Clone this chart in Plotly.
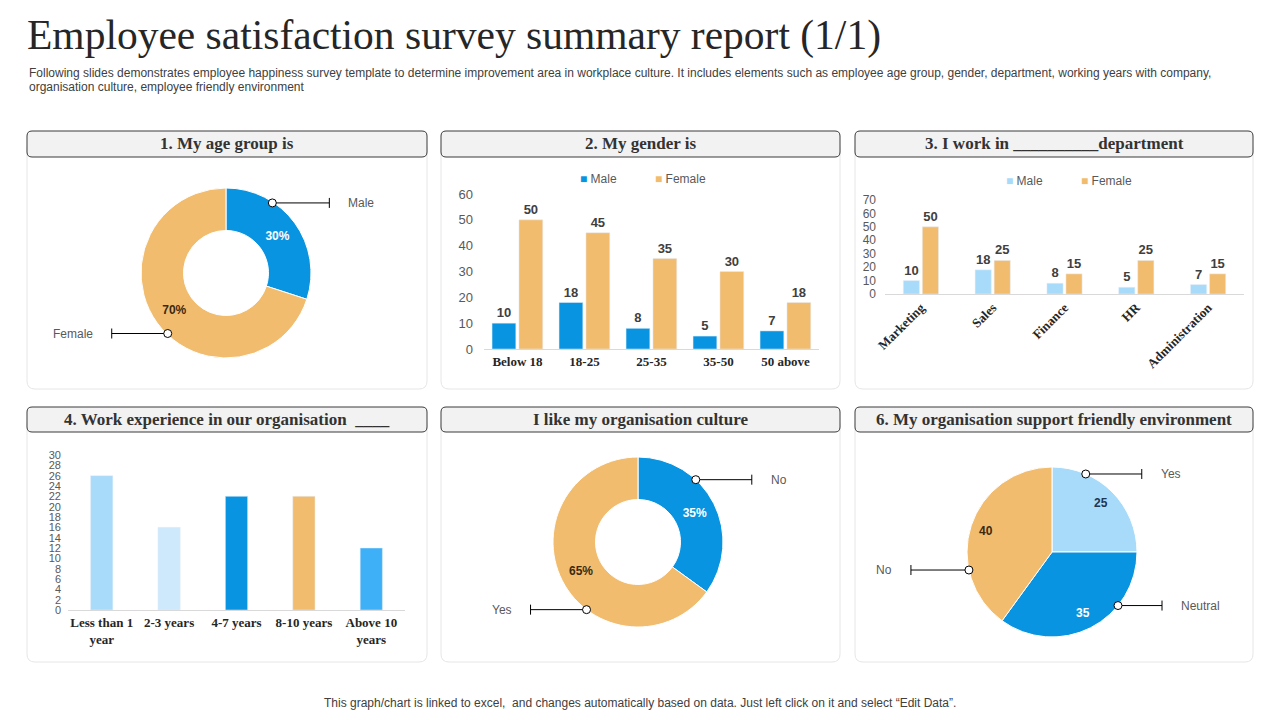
import math
import plotly.graph_objects as go

W, H = 1280, 720

# ---- data ----
age_labels = ["Male", "Female"]
age_values = [30, 70]

gender_cats = ["Below 18", "18-25", "25-35", "35-50", "50 above"]
gender_male = [10, 18, 8, 5, 7]
gender_female = [50, 45, 35, 30, 18]

dept_cats = ["Marketing", "Sales", "Finance", "HR", "Administration"]
dept_male = [10, 18, 8, 5, 7]
dept_female = [50, 25, 15, 25, 15]

exp_cats = ["Less than 1<br>year", "2-3 years", "4-7 years", "8-10 years", "Above 10<br>years"]
exp_values = [26, 16, 22, 22, 12]

culture_labels = ["No", "Yes"]
culture_values = [35, 65]

env_labels = ["Yes", "Neutral", "No"]
env_values = [25, 35, 40]

# ---- styles ----
BLUE = "#0994e2"
ORANGE = "#f2bc6f"
LIGHT = "#a8dbfa"
SANS = "Liberation Sans"
SERIF = "Liberation Serif"
TICK = "#595959"


def X(px):
    return px / W


def Y(py):
    return 1 - py / H


def rounded(x0, y0, x1, y1, r):
    rx, ry = r / W, r / H
    a, b, c, d = X(x0), Y(y0), X(x1), Y(y1)
    return (f"M{a+rx},{b} L{c-rx},{b} Q{c},{b} {c},{b-ry} L{c},{d+ry} Q{c},{d} {c-rx},{d} "
            f"L{a+rx},{d} Q{a},{d} {a},{d+ry} L{a},{b-ry} Q{a},{b} {a+rx},{b} Z")


fig = go.Figure()
shapes = []
annotations = []

# ---- pies ----
def pie_domain(cx, cy, r):
    return dict(x=[X(cx - r), X(cx + r)], y=[Y(cy + r), Y(cy - r)])

fig.add_trace(go.Pie(labels=age_labels, values=age_values, hole=0.5, sort=False,
                     direction="clockwise", domain=pie_domain(226, 273, 85),
                     marker=dict(colors=[BLUE, ORANGE], line=dict(color="white", width=1)),
                     texttemplate="%{percent:.0%}", textposition="inside",
                     insidetextorientation="horizontal",
                     insidetextfont=dict(family=SANS, size=12, weight="bold", color=["white", "#3a2a10"]),
                     showlegend=False, hoverinfo="skip"))

fig.add_trace(go.Pie(labels=culture_labels, values=culture_values, hole=0.5, sort=False,
                     direction="clockwise", domain=pie_domain(638, 542, 85),
                     marker=dict(colors=[BLUE, ORANGE], line=dict(color="white", width=1)),
                     texttemplate="%{percent:.0%}", textposition="inside",
                     insidetextorientation="horizontal",
                     insidetextfont=dict(family=SANS, size=12, weight="bold", color=["white", "#3a2a10"]),
                     showlegend=False, hoverinfo="skip"))

fig.add_trace(go.Pie(labels=env_labels, values=env_values, sort=False,
                     direction="clockwise", domain=pie_domain(1052, 552, 85),
                     marker=dict(colors=[LIGHT, BLUE, ORANGE], line=dict(color="white", width=1)),
                     textinfo="none", showlegend=False, hoverinfo="skip"))

# value labels of the full pie sit further out than plotly puts them
env_text_colors = ["#1f3550", "white", "#3a2a10"]
start = 0
for v, col in zip(env_values, env_text_colors):
    ang = (start + v / 2) / sum(env_values) * 2 * math.pi
    start += v
    annotations.append(dict(text=f"<b>{v}</b>", x=X(1052 + 69 * math.sin(ang)), y=Y(552 - 69 * math.cos(ang)),
                            xref="paper", yref="paper", showarrow=False, xanchor="center", yanchor="middle",
                            font=dict(family=SANS, size=12, color=col)))

# ---- bars ----
# offset/width per trace so each chart gets its own bar spacing
fig.add_trace(go.Bar(x=gender_cats, y=gender_male, name="Male", marker_color=BLUE,
                     offset=-0.38, width=0.355,
                     text=gender_male, textposition="outside", xaxis="x", yaxis="y"))
fig.add_trace(go.Bar(x=gender_cats, y=gender_female, name="Female", marker_color=ORANGE,
                     offset=0.022, width=0.355,
                     text=gender_female, textposition="outside", xaxis="x", yaxis="y"))

fig.add_trace(go.Bar(x=dept_cats, y=dept_male, name="Male", marker_color=LIGHT,
                     offset=-0.245, width=0.225,
                     text=dept_male, textposition="outside", xaxis="x2", yaxis="y2"))
fig.add_trace(go.Bar(x=dept_cats, y=dept_female, name="Female", marker_color=ORANGE,
                     offset=0.02, width=0.225,
                     text=dept_female, textposition="outside", xaxis="x2", yaxis="y2"))

fig.add_trace(go.Bar(x=exp_cats, y=exp_values, width=0.33,
                     marker_color=[LIGHT, "#cde9fb", BLUE, ORANGE, "#3db0f7"],
                     xaxis="x3", yaxis="y3"))

fig.update_traces(selector=dict(type="bar"), textfont=dict(family=SANS, size=13, weight="bold", color="#404040"),
                  cliponaxis=False, constraintext="none", hoverinfo="skip", showlegend=False)

# compact legends like the office chart ones
def legend(items, x0, y):
    x = x0
    for name, col in items:
        annotations.append(dict(text=f"<span style='color:{col}'>\u25A0</span> {name}", x=X(x), y=Y(y),
                                xref="paper", yref="paper", showarrow=False, xanchor="left", yanchor="middle",
                                font=dict(family=SANS, size=12, color=TICK)))
        x += 75

legend([("Male", BLUE), ("Female", ORANGE)], 578, 179)
legend([("Male", LIGHT), ("Female", ORANGE)], 1004, 181)

xcommon = dict(showline=True, linecolor="#d9d9d9", showgrid=False, zeroline=False, ticks="",
               automargin=False,
               tickfont=dict(family=SERIF, size=13, weight="bold", color="#262626"), fixedrange=True)
ycommon = dict(showline=False, showgrid=False, zeroline=False, ticks="", automargin=False,
               tickfont=dict(family=SANS, size=12, color=TICK), fixedrange=True)

fig.update_layout(
    width=W, height=H, margin=dict(l=0, r=0, t=0, b=0, autoexpand=False),
    paper_bgcolor="white", plot_bgcolor="white",
    barmode="group", bargap=0.27,
    xaxis=dict(xcommon, domain=[X(484), X(819)], anchor="y"),
    yaxis=dict(ycommon, domain=[Y(349), Y(194)], range=[0, 60], dtick=10, anchor="x",
               ticklabelstandoff=10, tickfont=dict(family=SANS, size=13, color=TICK)),
    xaxis2=dict(xcommon, domain=[X(885), X(1244)], anchor="y2", tickangle=-45),
    yaxis2=dict(ycommon, domain=[Y(294), Y(200)], range=[0, 70], dtick=10, anchor="x2",
                ticklabelstandoff=8),
    xaxis3=dict(xcommon, domain=[X(68), X(405)], anchor="y3"),
    yaxis3=dict(ycommon, domain=[Y(610), Y(455)], range=[0, 30], dtick=2, anchor="x3",
                ticklabelstandoff=6, tickfont=dict(family=SANS, size=11, color=TICK)),
)

# ---- cards and headers ----
cols = [(27, 427), (441, 840), (855, 1253)]
rows = [(131, 157, 389), (407, 432, 662)]
headers = [["1. My age group is", "2. My gender is", "3. I work in __________department"],
           ["4. Work experience in our organisation  ____", "I like my organisation culture",
            "6. My organisation support friendly environment"]]
for ri, (ht, hb, cb) in enumerate(rows):
    for ci, (cl, cr) in enumerate(cols):
        shapes.append(dict(type="path", path=rounded(cl, ht + 10, cr, cb, 8), xref="paper", yref="paper",
                           line=dict(color="#e6e6e6", width=1), fillcolor="rgba(0,0,0,0)", layer="below"))
        shapes.append(dict(type="path", path=rounded(cl, ht, cr, hb, 5), xref="paper", yref="paper",
                           line=dict(color="#3a3a3a", width=1), fillcolor="#f2f2f2", layer="below"))
        annotations.append(dict(text=headers[ri][ci], x=X((cl + cr) / 2), y=Y((ht + hb) / 2),
                                xref="paper", yref="paper", showarrow=False,
                                xanchor="center", yanchor="middle",
                                font=dict(family=SERIF, size=17, weight="bold", color="#333333")))

# ---- pie callouts ----
def callouts(cx, cy, r, values, labels, fracs, lengths):
    total = sum(values)
    start = 0
    for v, lab, f, ln in zip(values, labels, fracs, lengths):
        ang = (start + f * v) / total * 2 * math.pi
        start += v
        px = cx + r * math.sin(ang)
        py = cy - r * math.cos(ang)
        side = 1 if math.sin(ang) > 0 else -1
        tx = px + side * ln
        shapes.append(dict(type="line", xref="paper", yref="paper", x0=X(px), x1=X(tx), y0=Y(py), y1=Y(py),
                           line=dict(color="black", width=1)))
        shapes.append(dict(type="line", xref="paper", yref="paper", x0=X(tx), x1=X(tx), y0=Y(py - 5), y1=Y(py + 5),
                           line=dict(color="black", width=1)))
        shapes.append(dict(type="circle", xref="paper", yref="paper", xsizemode="pixel", ysizemode="pixel",
                           xanchor=X(px), yanchor=Y(py), x0=-4, x1=4, y0=-4, y1=4,
                           line=dict(color="black", width=1), fillcolor="white"))
        annotations.append(dict(text=lab, x=X(tx + side * 17), y=Y(py), xref="paper", yref="paper",
                                showarrow=False, xanchor="left" if side > 0 else "right", yanchor="middle",
                                font=dict(family=SANS, size=12, color=TICK)))

callouts(226, 273, 84, age_values, age_labels, [0.31, 0.46], [57, 56])
callouts(638, 542, 85, culture_values, culture_labels, [0.34, 0.39], [56, 56])
callouts(1052, 552, 85, env_values, env_labels, [0.26, 0.31, 0.29], [56, 44, 58])

# ---- titles ----
annotations.append(dict(text="Employee satisfaction survey summary report (1/1)", x=X(25), y=Y(35),
                        xref="paper", yref="paper", showarrow=False, xanchor="left", yanchor="middle",
                        font=dict(family=SERIF, size=41.5, color="#262626")))
annotations.append(dict(text="Following slides demonstrates employee happiness survey template to determine "
                             "improvement area in workplace culture. It includes elements such as employee age "
                             "group, gender, department, working years with company,",
                        x=X(27), y=Y(73), xref="paper", yref="paper", showarrow=False,
                        xanchor="left", yanchor="middle", font=dict(family=SANS, size=12, color="#404040")))
annotations.append(dict(text="organisation culture, employee friendly environment",
                        x=X(27), y=Y(87), xref="paper", yref="paper", showarrow=False,
                        xanchor="left", yanchor="middle", font=dict(family=SANS, size=12, color="#404040")))
annotations.append(dict(text="This graph/chart is linked to excel,  and changes automatically based on data. "
                             "Just left click on it and select \u201cEdit Data\u201d.",
                        x=0.5, y=Y(703), xref="paper", yref="paper", showarrow=False,
                        xanchor="center", yanchor="middle", font=dict(family=SANS, size=12, color="#404040")))

fig.update_layout(shapes=shapes, annotations=annotations)

fig.write_html("out.html", config={"displayModeBar": False},
               post_script="document.body.style.margin='0';")
